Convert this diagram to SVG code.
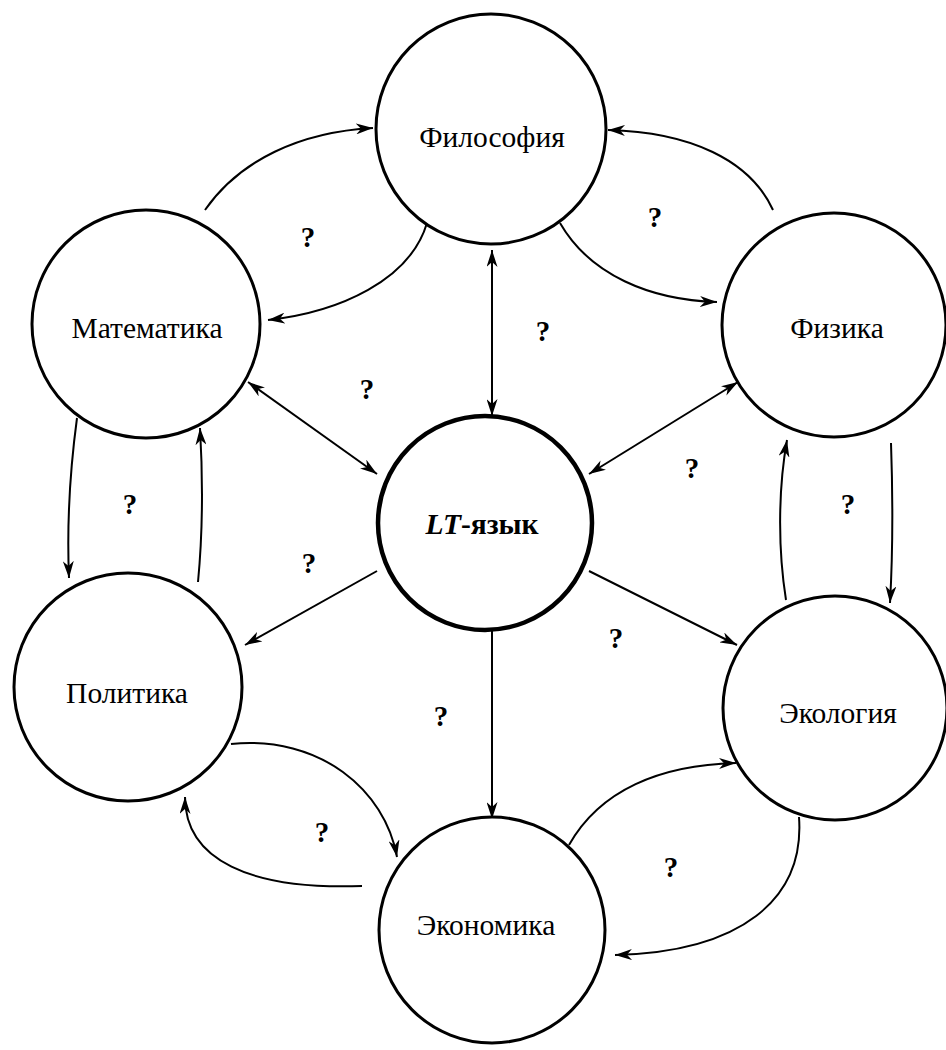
<svg xmlns="http://www.w3.org/2000/svg" width="946" height="1050" viewBox="0 0 946 1050">
<style>
.node{fill:#fff;stroke:#000;stroke-width:3}
.main{fill:#fff;stroke:#000;stroke-width:4.5}
.lbl{font-size:29.5px;fill:#000;text-anchor:middle}
.q{font-size:29px;font-weight:bold;fill:#000;text-anchor:middle}
.c{fill:none;stroke:#000;stroke-width:2}
</style>
<defs>
<marker id="ah" viewBox="0 0 17 11" markerUnits="userSpaceOnUse" markerWidth="17" markerHeight="11" refX="17" refY="5.5" orient="auto-start-reverse">
<path d="M0,0 L17,5.5 L0,11 L5,5.5 Z" fill="#000"/>
</marker>
</defs>
<g id="connectors">
<path class="c" d="M205,210 C240,160 300,132 373,128" marker-end="url(#ah)"/>
<path class="c" d="M427,223 C410,280 340,312 268,320" marker-end="url(#ah)"/>
<path class="c" d="M773,210 C750,160 690,132 608,130" marker-end="url(#ah)"/>
<path class="c" d="M560,223 C590,275 650,300 717,302" marker-end="url(#ah)"/>
<path class="c" d="M492,250 L492,416" marker-start="url(#ah)" marker-end="url(#ah)"/>
<path class="c" d="M248,382 L377,474" marker-start="url(#ah)" marker-end="url(#ah)"/>
<path class="c" d="M589,474 L738,382" marker-start="url(#ah)" marker-end="url(#ah)"/>
<path class="c" d="M77,418 C70,470 67,530 69,578" marker-end="url(#ah)"/>
<path class="c" d="M198,582 C203,530 203,480 200,428" marker-end="url(#ah)"/>
<path class="c" d="M377,571 L245,645" marker-end="url(#ah)"/>
<path class="c" d="M589,571 L737,645" marker-end="url(#ah)"/>
<path class="c" d="M492,630 L492,819" marker-end="url(#ah)"/>
<path class="c" d="M891,443 C893,500 893,550 890,603" marker-end="url(#ah)"/>
<path class="c" d="M786,600 C778,550 778,490 787,440" marker-end="url(#ah)"/>
<path class="c" d="M231,744 C320,735 385,790 397,857" marker-end="url(#ah)"/>
<path class="c" d="M362,886 C250,890 185,860 185,797" marker-end="url(#ah)"/>
<path class="c" d="M799,817 C805,900 740,952 615,955" marker-end="url(#ah)"/>
<path class="c" d="M569,845 C600,790 660,765 736,763" marker-end="url(#ah)"/>
</g>
<g font-family="Liberation Serif, Times New Roman, serif">
<g id="philosophy"><circle class="node" cx="491" cy="129" r="115"/><text class="lbl" x="492" y="147">Философия</text></g>
<g id="math"><circle class="node" cx="146" cy="324" r="114"/><text class="lbl" x="147" y="338">Математика</text></g>
<g id="physics"><circle class="node" cx="834" cy="325" r="112"/><text class="lbl" x="837" y="338">Физика</text></g>
<g id="lt"><circle class="main" cx="485" cy="523" r="107"/><text class="lbl" x="482" y="534" font-weight="bold" font-size="32"><tspan font-style="italic">LT</tspan>-язык</text></g>
<g id="politics"><circle class="node" cx="128" cy="687" r="114"/><text class="lbl" x="127" y="703">Политика</text></g>
<g id="ecology"><circle class="node" cx="835" cy="708" r="112"/><text class="lbl" x="838" y="723">Экология</text></g>
<g id="economics"><circle class="node" cx="492" cy="930" r="113"/><text class="lbl" x="486" y="935">Экономика</text></g>
<g id="labels">
<text class="q" x="308" y="247">?</text>
<text class="q" x="655" y="227">?</text>
<text class="q" x="543" y="341">?</text>
<text class="q" x="367" y="399">?</text>
<text class="q" x="130" y="514">?</text>
<text class="q" x="692" y="478">?</text>
<text class="q" x="848" y="514">?</text>
<text class="q" x="309" y="573">?</text>
<text class="q" x="616" y="648">?</text>
<text class="q" x="441" y="726">?</text>
<text class="q" x="322" y="842">?</text>
<text class="q" x="671" y="877">?</text>
</g>
</g>
</svg>
